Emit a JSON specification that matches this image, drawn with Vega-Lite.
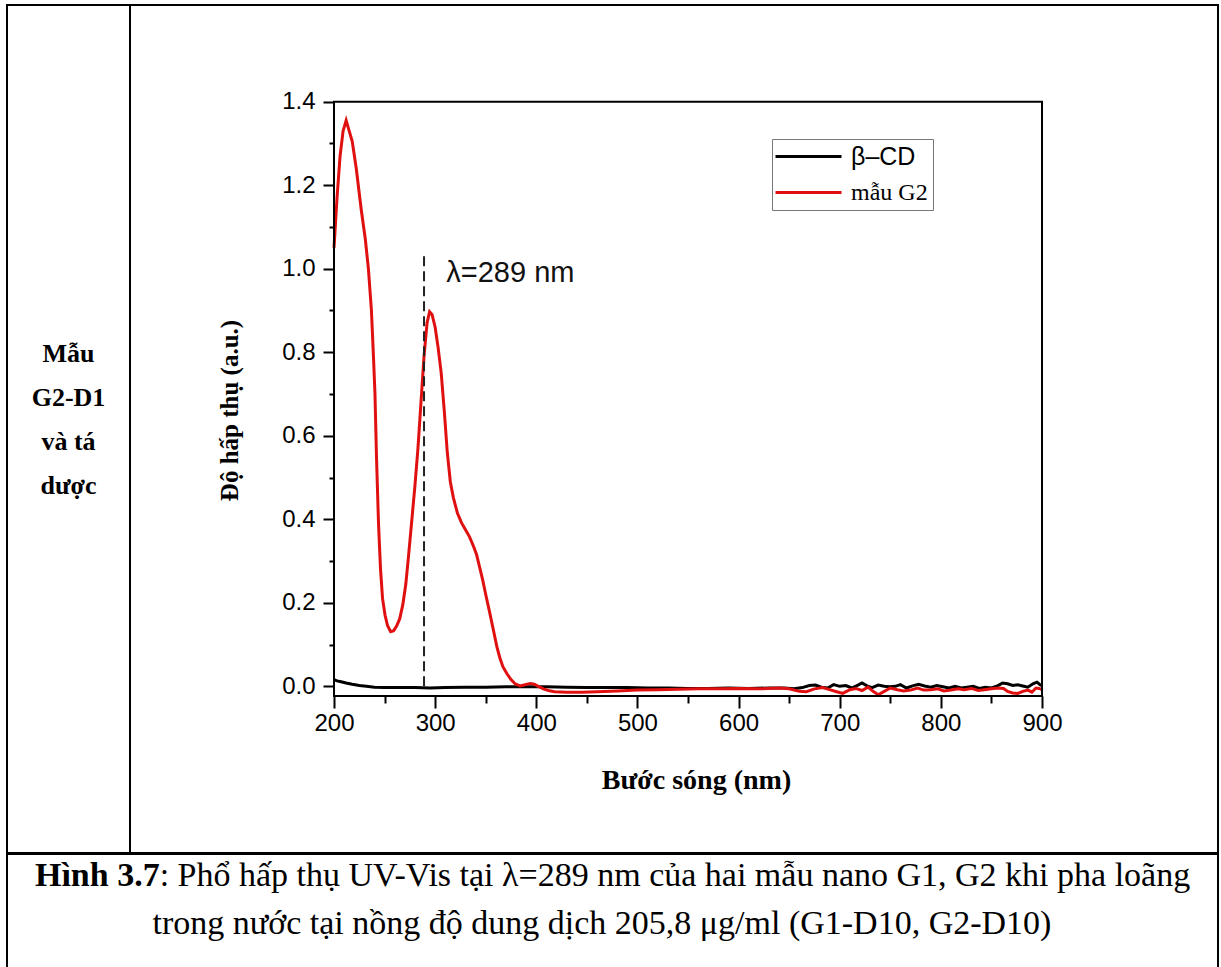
{
  "$schema": "https://vega.github.io/schema/vega-lite/v6.json",
  "padding": {"left": 6, "top": 4, "right": 0, "bottom": 0},
  "background": "white",
  "spacing": -2,
  "config": {
    "font": "Liberation Sans",
    "view": {"stroke": "black", "strokeWidth": 2}
  },
  "datasets": {
    "spectra": [
      {"s": "β–CD", "x": 200, "y": 0.016}, {"s": "β–CD", "x": 203, "y": 0.013}, {"s": "β–CD", "x": 207, "y": 0.011}, {"s": "β–CD", "x": 212, "y": 0.008}, {"s": "β–CD", "x": 218, "y": 0.005}, {"s": "β–CD", "x": 225, "y": 0.002}, {"s": "β–CD", "x": 232, "y": 0.0}, {"s": "β–CD", "x": 240, "y": -0.002}, {"s": "β–CD", "x": 250, "y": -0.003}, {"s": "β–CD", "x": 265, "y": -0.003}, {"s": "β–CD", "x": 280, "y": -0.003}, {"s": "β–CD", "x": 295, "y": -0.004}, {"s": "β–CD", "x": 310, "y": -0.003}, {"s": "β–CD", "x": 330, "y": -0.002}, {"s": "β–CD", "x": 350, "y": -0.002}, {"s": "β–CD", "x": 370, "y": -0.001}, {"s": "β–CD", "x": 390, "y": -0.001}, {"s": "β–CD", "x": 410, "y": -0.001}, {"s": "β–CD", "x": 430, "y": -0.002}, {"s": "β–CD", "x": 450, "y": -0.003}, {"s": "β–CD", "x": 470, "y": -0.003}, {"s": "β–CD", "x": 490, "y": -0.003}, {"s": "β–CD", "x": 510, "y": -0.004}, {"s": "β–CD", "x": 530, "y": -0.004}, {"s": "β–CD", "x": 550, "y": -0.005}, {"s": "β–CD", "x": 570, "y": -0.005}, {"s": "β–CD", "x": 590, "y": -0.004}, {"s": "β–CD", "x": 610, "y": -0.005}, {"s": "β–CD", "x": 630, "y": -0.004}, {"s": "β–CD", "x": 645, "y": -0.004}, {"s": "β–CD", "x": 655, "y": -0.006}, {"s": "β–CD", "x": 663, "y": -0.003}, {"s": "β–CD", "x": 670, "y": 0.002}, {"s": "β–CD", "x": 676, "y": 0.003}, {"s": "β–CD", "x": 682, "y": -0.002}, {"s": "β–CD", "x": 688, "y": -0.004}, {"s": "β–CD", "x": 694, "y": 0.004}, {"s": "β–CD", "x": 700, "y": 0.0}, {"s": "β–CD", "x": 706, "y": 0.002}, {"s": "β–CD", "x": 712, "y": -0.004}, {"s": "β–CD", "x": 718, "y": 0.003}, {"s": "β–CD", "x": 722, "y": 0.008}, {"s": "β–CD", "x": 727, "y": 0.001}, {"s": "β–CD", "x": 732, "y": -0.003}, {"s": "β–CD", "x": 738, "y": 0.003}, {"s": "β–CD", "x": 744, "y": 0.0}, {"s": "β–CD", "x": 749, "y": -0.001}, {"s": "β–CD", "x": 755, "y": 0.0}, {"s": "β–CD", "x": 760, "y": 0.004}, {"s": "β–CD", "x": 766, "y": -0.004}, {"s": "β–CD", "x": 772, "y": 0.001}, {"s": "β–CD", "x": 778, "y": 0.005}, {"s": "β–CD", "x": 784, "y": 0.001}, {"s": "β–CD", "x": 790, "y": -0.002}, {"s": "β–CD", "x": 796, "y": 0.002}, {"s": "β–CD", "x": 802, "y": -0.001}, {"s": "β–CD", "x": 808, "y": -0.004}, {"s": "β–CD", "x": 814, "y": 0.0}, {"s": "β–CD", "x": 820, "y": -0.004}, {"s": "β–CD", "x": 826, "y": -0.002}, {"s": "β–CD", "x": 832, "y": 0.0}, {"s": "β–CD", "x": 838, "y": -0.005}, {"s": "β–CD", "x": 844, "y": -0.002}, {"s": "β–CD", "x": 850, "y": -0.004}, {"s": "β–CD", "x": 856, "y": 0.001}, {"s": "β–CD", "x": 861, "y": 0.008}, {"s": "β–CD", "x": 866, "y": 0.006}, {"s": "β–CD", "x": 871, "y": 0.002}, {"s": "β–CD", "x": 876, "y": 0.004}, {"s": "β–CD", "x": 881, "y": 0.001}, {"s": "β–CD", "x": 886, "y": -0.002}, {"s": "β–CD", "x": 891, "y": 0.006}, {"s": "β–CD", "x": 895, "y": 0.01}, {"s": "β–CD", "x": 898, "y": 0.004}, {"s": "β–CD", "x": 900, "y": 0.002},
      {"s": "mẫu G2", "x": 200, "y": 1.05}, {"s": "mẫu G2", "x": 203, "y": 1.17}, {"s": "mẫu G2", "x": 206, "y": 1.27}, {"s": "mẫu G2", "x": 209, "y": 1.33}, {"s": "mẫu G2", "x": 212, "y": 1.355}, {"s": "mẫu G2", "x": 215, "y": 1.33}, {"s": "mẫu G2", "x": 218, "y": 1.305}, {"s": "mẫu G2", "x": 222, "y": 1.24}, {"s": "mẫu G2", "x": 227, "y": 1.14}, {"s": "mẫu G2", "x": 231, "y": 1.07}, {"s": "mẫu G2", "x": 234, "y": 1.0}, {"s": "mẫu G2", "x": 237, "y": 0.9}, {"s": "mẫu G2", "x": 239, "y": 0.79}, {"s": "mẫu G2", "x": 240.5, "y": 0.7}, {"s": "mẫu G2", "x": 242, "y": 0.55}, {"s": "mẫu G2", "x": 244, "y": 0.39}, {"s": "mẫu G2", "x": 246, "y": 0.28}, {"s": "mẫu G2", "x": 248, "y": 0.21}, {"s": "mẫu G2", "x": 250.5, "y": 0.17}, {"s": "mẫu G2", "x": 253, "y": 0.145}, {"s": "mẫu G2", "x": 256, "y": 0.131}, {"s": "mẫu G2", "x": 259, "y": 0.133}, {"s": "mẫu G2", "x": 262, "y": 0.145}, {"s": "mẫu G2", "x": 265, "y": 0.162}, {"s": "mẫu G2", "x": 268, "y": 0.195}, {"s": "mẫu G2", "x": 271, "y": 0.245}, {"s": "mẫu G2", "x": 274, "y": 0.32}, {"s": "mẫu G2", "x": 277, "y": 0.4}, {"s": "mẫu G2", "x": 280, "y": 0.48}, {"s": "mẫu G2", "x": 283, "y": 0.57}, {"s": "mẫu G2", "x": 286, "y": 0.68}, {"s": "mẫu G2", "x": 289, "y": 0.79}, {"s": "mẫu G2", "x": 292, "y": 0.87}, {"s": "mẫu G2", "x": 294.5, "y": 0.897}, {"s": "mẫu G2", "x": 297, "y": 0.89}, {"s": "mẫu G2", "x": 300, "y": 0.86}, {"s": "mẫu G2", "x": 303, "y": 0.81}, {"s": "mẫu G2", "x": 306, "y": 0.75}, {"s": "mẫu G2", "x": 309, "y": 0.66}, {"s": "mẫu G2", "x": 312, "y": 0.56}, {"s": "mẫu G2", "x": 315, "y": 0.49}, {"s": "mẫu G2", "x": 318, "y": 0.452}, {"s": "mẫu G2", "x": 322, "y": 0.415}, {"s": "mẫu G2", "x": 326, "y": 0.392}, {"s": "mẫu G2", "x": 330, "y": 0.375}, {"s": "mẫu G2", "x": 334, "y": 0.358}, {"s": "mẫu G2", "x": 338, "y": 0.335}, {"s": "mẫu G2", "x": 341, "y": 0.315}, {"s": "mẫu G2", "x": 344, "y": 0.285}, {"s": "mẫu G2", "x": 347, "y": 0.255}, {"s": "mẫu G2", "x": 350, "y": 0.22}, {"s": "mẫu G2", "x": 354, "y": 0.176}, {"s": "mẫu G2", "x": 358, "y": 0.13}, {"s": "mẫu G2", "x": 361, "y": 0.095}, {"s": "mẫu G2", "x": 364, "y": 0.068}, {"s": "mẫu G2", "x": 367, "y": 0.047}, {"s": "mẫu G2", "x": 371, "y": 0.03}, {"s": "mẫu G2", "x": 375, "y": 0.016}, {"s": "mẫu G2", "x": 379, "y": 0.006}, {"s": "mẫu G2", "x": 384, "y": 0.001}, {"s": "mẫu G2", "x": 389, "y": 0.004}, {"s": "mẫu G2", "x": 394, "y": 0.007}, {"s": "mẫu G2", "x": 398, "y": 0.005}, {"s": "mẫu G2", "x": 402, "y": 0.0}, {"s": "mẫu G2", "x": 407, "y": -0.006}, {"s": "mẫu G2", "x": 412, "y": -0.01}, {"s": "mẫu G2", "x": 418, "y": -0.013}, {"s": "mẫu G2", "x": 430, "y": -0.014}, {"s": "mẫu G2", "x": 445, "y": -0.014}, {"s": "mẫu G2", "x": 460, "y": -0.013}, {"s": "mẫu G2", "x": 480, "y": -0.011}, {"s": "mẫu G2", "x": 500, "y": -0.009}, {"s": "mẫu G2", "x": 520, "y": -0.008}, {"s": "mẫu G2", "x": 540, "y": -0.007}, {"s": "mẫu G2", "x": 560, "y": -0.006}, {"s": "mẫu G2", "x": 580, "y": -0.006}, {"s": "mẫu G2", "x": 600, "y": -0.005}, {"s": "mẫu G2", "x": 620, "y": -0.006}, {"s": "mẫu G2", "x": 640, "y": -0.004}, {"s": "mẫu G2", "x": 650, "y": -0.006}, {"s": "mẫu G2", "x": 660, "y": -0.012}, {"s": "mẫu G2", "x": 667, "y": -0.013}, {"s": "mẫu G2", "x": 675, "y": -0.006}, {"s": "mẫu G2", "x": 683, "y": -0.003}, {"s": "mẫu G2", "x": 690, "y": -0.008}, {"s": "mẫu G2", "x": 697, "y": -0.013}, {"s": "mẫu G2", "x": 703, "y": -0.017}, {"s": "mẫu G2", "x": 710, "y": -0.008}, {"s": "mẫu G2", "x": 716, "y": -0.005}, {"s": "mẫu G2", "x": 722, "y": -0.01}, {"s": "mẫu G2", "x": 728, "y": -0.002}, {"s": "mẫu G2", "x": 733, "y": -0.012}, {"s": "mẫu G2", "x": 738, "y": -0.02}, {"s": "mẫu G2", "x": 744, "y": -0.012}, {"s": "mẫu G2", "x": 750, "y": -0.004}, {"s": "mẫu G2", "x": 757, "y": -0.008}, {"s": "mẫu G2", "x": 763, "y": -0.011}, {"s": "mẫu G2", "x": 770, "y": -0.009}, {"s": "mẫu G2", "x": 777, "y": -0.004}, {"s": "mẫu G2", "x": 783, "y": -0.009}, {"s": "mẫu G2", "x": 790, "y": -0.008}, {"s": "mẫu G2", "x": 797, "y": -0.006}, {"s": "mẫu G2", "x": 803, "y": -0.011}, {"s": "mẫu G2", "x": 810, "y": -0.009}, {"s": "mẫu G2", "x": 817, "y": -0.006}, {"s": "mẫu G2", "x": 823, "y": -0.008}, {"s": "mẫu G2", "x": 830, "y": -0.005}, {"s": "mẫu G2", "x": 837, "y": -0.01}, {"s": "mẫu G2", "x": 843, "y": -0.008}, {"s": "mẫu G2", "x": 850, "y": -0.006}, {"s": "mẫu G2", "x": 857, "y": -0.004}, {"s": "mẫu G2", "x": 862, "y": -0.005}, {"s": "mẫu G2", "x": 866, "y": -0.012}, {"s": "mẫu G2", "x": 871, "y": -0.016}, {"s": "mẫu G2", "x": 876, "y": -0.017}, {"s": "mẫu G2", "x": 881, "y": -0.012}, {"s": "mẫu G2", "x": 886, "y": -0.009}, {"s": "mẫu G2", "x": 890, "y": -0.014}, {"s": "mẫu G2", "x": 894, "y": -0.004}, {"s": "mẫu G2", "x": 897, "y": -0.005}, {"s": "mẫu G2", "x": 900, "y": -0.008}
    ],
    "leftcell": [
      {"line": 1, "text": "Mẫu"}, {"line": 2, "text": "G2-D1"}, {"line": 3, "text": "và tá"}, {"line": 4, "text": "dược"}
    ],
    "caption": [
      {"line": 1, "part": "bold", "text": "Hình 3.7"},
      {"line": 1, "part": "rest", "text": ": Phổ hấp thụ UV-Vis tại λ=289 nm của hai mẫu nano G1, G2 khi pha loãng"},
      {"line": 2, "part": "second", "text": "trong nước tại nồng độ dung dịch 205,8 μg/ml (G1-D10, G2-D10)"}
    ]
  },
  "vconcat": [
    {
      "hconcat": [
        {
          "width": 123,
          "height": 848,
          "data": {"name": "leftcell"},
          "mark": {"type": "text", "font": "Liberation Serif", "fontWeight": "bold", "fontSize": 26, "baseline": "middle", "color": "black"},
          "encoding": {
            "y": {"field": "line", "type": "quantitative", "scale": {"domain": [-6.932, 12.341], "reverse": true, "nice": false, "zero": false}, "axis": null},
            "text": {"field": "text"}
          }
        },
        {
          "width": 1088,
          "height": 848,
          "layer": [
            {
              "data": {"name": "spectra"},
              "mark": {"type": "line", "strokeWidth": 3, "interpolate": "linear"},
              "encoding": {
                "x": {
                  "field": "x", "type": "quantitative",
                  "scale": {"domain": [-1.7, 1074.0], "nice": false, "zero": false},
                  "axis": {
                    "title": "Bước sóng (nm)",
                    "offset": -157,
                    "domain": false, "grid": false,
                    "values": [200, 250, 300, 350, 400, 450, 500, 550, 600, 650, 700, 750, 800, 850, 900],
                    "labelExpr": "datum.value % 100 === 0 ? datum.label : ''",
                    "tickSize": {"condition": {"test": "datum.value % 100 === 0", "value": 12}, "value": 7},
                    "tickWidth": 2, "tickColor": "black",
                    "labelFont": "Liberation Sans", "labelFontSize": 24, "labelColor": "black", "labelPadding": 3,
                    "labelOverlap": false, "labelFlush": false,
                    "titleFont": "Liberation Serif", "titleFontWeight": "bold", "titleFontSize": 28, "titleColor": "black",
                    "titleX": 566, "titleY": 84, "titleBaseline": "middle", "titleAlign": "center"
                  }
                },
                "y": {
                  "field": "y", "type": "quantitative",
                  "scale": {"domain": [-0.39909, 1.63156], "nice": false, "zero": false},
                  "axis": {
                    "title": "Độ hấp thụ (a.u.)",
                    "offset": -204,
                    "domain": false, "grid": false,
                    "values": [0, 0.1, 0.2, 0.3, 0.4, 0.5, 0.6, 0.7, 0.8, 0.9, 1.0, 1.1, 1.2, 1.3, 1.4],
                    "labelExpr": "round(datum.value * 10) % 2 === 0 ? format(datum.value, '.1f') : ''",
                    "tickSize": {"condition": {"test": "round(datum.value * 10) % 2 === 0", "value": 11}, "value": 5},
                    "tickWidth": 2, "tickColor": "black",
                    "labelFont": "Liberation Sans", "labelFontSize": 24, "labelColor": "black", "labelPadding": 8,
                    "labelOverlap": false, "labelFlush": false,
                    "titleFont": "Liberation Serif", "titleFontWeight": "bold", "titleFontSize": 25, "titleColor": "black",
                    "titleX": -105, "titleY": 405, "titleAngle": -90, "titleBaseline": "middle", "titleAlign": "center"
                  }
                },
                "color": {
                  "field": "s", "type": "nominal",
                  "scale": {"domain": ["β–CD", "mẫu G2"], "range": ["#000000", "#e01010"]},
                  "legend": {
                    "title": null,
                    "orient": "none",
                    "legendX": 765,
                    "legendY": 134,
                    "symbolType": "M-3,0H3",
                    "symbolSize": 484,
                    "symbolStrokeWidth": 3,
                    "symbolOffset": 19,
                    "padding": 5,
                    "strokeColor": "#777777",
                    "labelOffset": 30,
                    "rowPadding": 10,
                    "labelFontSize": 24,
                    "labelColor": "black",
                    "labelLimit": 300,
                    "encode": {
                      "labels": {
                        "update": {
                          "font": {"signal": "datum.label === 'β–CD' ? 'Liberation Sans' : 'Liberation Serif'"},
                          "fontSize": {"signal": "datum.label === 'β–CD' ? 25 : 24"}
                        }
                      }
                    }
                  }
                }
              }
            },
            {
              "data": {"values": [{}]},
              "mark": {"type": "rect", "fillOpacity": 0, "stroke": "black", "strokeWidth": 2},
              "encoding": {
                "x": {"datum": 200, "type": "quantitative"},
                "x2": {"datum": 900},
                "y": {"datum": -0.023, "type": "quantitative"},
                "y2": {"datum": 1.4}
              }
            },
            {
              "data": {"values": [{}]},
              "mark": {"type": "rule", "strokeDash": [10, 5], "strokeWidth": 2, "color": "#222222"},
              "encoding": {
                "x": {"datum": 289, "type": "quantitative"},
                "y": {"datum": 0, "type": "quantitative"},
                "y2": {"datum": 1.04}
              }
            },
            {
              "data": {"values": [{}]},
              "mark": {"type": "text", "text": "λ=289 nm", "font": "Liberation Sans", "fontSize": 29, "align": "left", "baseline": "middle", "color": "#111111"},
              "encoding": {
                "x": {"datum": 311, "type": "quantitative"},
                "y": {"datum": 0.99, "type": "quantitative"}
              }
            }
          ]
        }
      ],
      "spacing": 0,
      "bounds": "flush"
    },
    {
      "width": 1211,
      "height": 120,
      "data": {"name": "caption"},
      "encoding": {
        "y": {"field": "line", "type": "quantitative", "scale": {"domain": [0.3333, 2.8333], "reverse": true, "nice": false, "zero": false}, "axis": null},
        "text": {"field": "text"}
      },
      "layer": [
        {
          "transform": [{"filter": "datum.part === 'bold'"}],
          "mark": {"type": "text", "font": "Liberation Serif", "fontWeight": "bold", "fontSize": 34, "align": "right", "baseline": "alphabetic", "color": "black"},
          "encoding": {"x": {"datum": 0.12607, "type": "quantitative", "scale": {"domain": [0, 1], "nice": false, "zero": false}, "axis": null}}
        },
        {
          "transform": [{"filter": "datum.part === 'rest'"}],
          "mark": {"type": "text", "font": "Liberation Serif", "fontSize": 34, "align": "left", "baseline": "alphabetic", "color": "black"},
          "encoding": {"x": {"datum": 0.12607, "type": "quantitative"}}
        },
        {
          "transform": [{"filter": "datum.part === 'second'"}],
          "mark": {"type": "text", "font": "Liberation Serif", "fontSize": 34, "align": "center", "baseline": "alphabetic", "color": "black"},
          "encoding": {"x": {"datum": 0.4913, "type": "quantitative"}}
        }
      ]
    }
  ]
}
